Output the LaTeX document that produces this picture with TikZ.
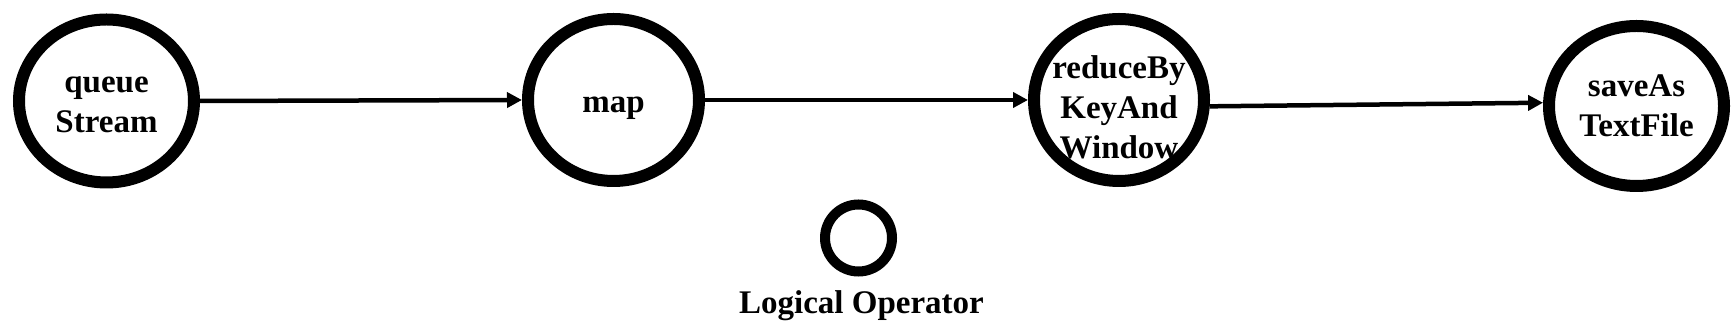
\documentclass[tikz,border=0pt]{standalone}
\usepackage{fontspec}
\setmainfont{Liberation Serif}
\usetikzlibrary{arrows.meta,positioning,shapes.geometric}

\begin{document}
\begin{tikzpicture}[x=1pt,y=1pt,font=\fontsize{33}{40}\selectfont\bfseries,
  op/.style={draw,ellipse,line width=12pt,inner sep=0pt},
  txt/.style={align=center,inner sep=0pt},
  arr/.style={line width=4.5pt,-{Triangle[length=15pt,width=15pt]}}]
\useasboundingbox (0,0) rectangle (1732,328);
\node[op,minimum width=175pt,minimum height=163pt,label={[txt,yshift=-4pt]center:queue\\Stream}] (qs) at (106.5,227) {};
\node[op,minimum width=171pt,minimum height=162pt,label={[txt,yshift=-8pt]center:map}] (map) at (613.5,228) {};
\node[op,minimum width=170pt,minimum height=162pt,label={[txt,yshift=-7pt]center:reduceBy\\KeyAnd\\Window}] (rbkw) at (1119,228) {};
\node[op,minimum width=175pt,minimum height=160pt,label={[txt]center:saveAs\\TextFile}] (stf) at (1636.5,222) {};
\draw[arr] (qs.east) -- (map.west);
\draw[arr] (map.east) -- (rbkw.west);
\draw[arr] (rbkw.-4) -- (stf.178);
% legend
\node[op,line width=10pt,minimum width=67pt,minimum height=67pt] (lo) at (858.5,90) {};
\node[inner sep=0pt,below=14pt of lo,xshift=3pt] (lot) {Logical Operator};
\end{tikzpicture}
\end{document}
